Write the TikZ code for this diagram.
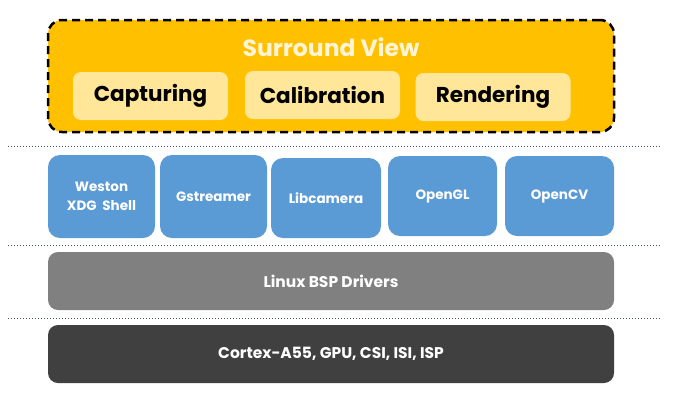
\documentclass[tikz,border=0pt]{standalone}
\usepackage{fontspec}
\setmainfont{Poppins}
\usepackage{tikz}

\definecolor{svyellow}{HTML}{FFC000}
\definecolor{svlight}{HTML}{FFE699}
\definecolor{svcream}{HTML}{FFF5D6}
\definecolor{svblue}{HTML}{5B9BD5}
\definecolor{svgrey}{HTML}{808080}
\definecolor{svdark}{HTML}{404040}
\definecolor{svline}{HTML}{44546A}

\begin{document}
\begin{tikzpicture}[x=1pt,y=-1pt,
  layer/.style={rounded corners=10pt,minimum width=566pt,minimum height=58pt,text=white,font=\bfseries\fontsize{15.5}{18}\selectfont},
  task/.style={fill=svlight,rounded corners=8pt,minimum width=155pt,minimum height=48pt,font=\bfseries\fontsize{21.5}{24}\selectfont},
  lib/.style={fill=svblue,rounded corners=12pt,minimum height=80pt,text=white,align=center,font=\bfseries\fontsize{13.5}{19}\selectfont},
  sep/.style={svline,line width=1pt,dotted}]
\useasboundingbox (0,0) rectangle (700,400);

\node[draw,line width=2.5pt,dash pattern=on 8pt off 5pt,fill=svyellow,rounded corners=14pt,minimum width=566pt,minimum height=112pt] (app) at (331,76) {};
\node[text=svcream,font=\bfseries\fontsize{23.5}{26}\selectfont] (title) at (331,47) {Surround View};
\node[task] (capture) at (150.5,96) {Capturing};
\node[task] (calib) at (322.5,95) {Calibration};
\node[task] (render) at (493,97) {Rendering};

\node[lib,minimum width=107pt,minimum height=83pt] (weston) at (101.5,196.5) {Weston\\XDG\ \ Shell};
\node[lib,minimum width=107pt,minimum height=83pt] (gst) at (213.5,196.5) {Gstreamer};
\node[lib,minimum width=110pt] (libcam) at (326,198) {Libcamera};
\node[lib,minimum width=109pt] (gl) at (442.5,196) {OpenGL};
\node[lib,minimum width=109pt] (cv) at (559.5,196) {OpenCV};

\node[layer,fill=svgrey] (bsp) at (331,281) {Linux BSP Drivers};
\node[layer,fill=svdark] (soc) at (331,354) {Cortex-A55, GPU, CSI, ISI, ISP};

\coordinate (s1a) at (8,146); \coordinate (s1b) at (660,146);
\coordinate (s2a) at (8,245); \coordinate (s2b) at (660,245);
\coordinate (s3a) at (8,318); \coordinate (s3b) at (660,318);
\draw[sep] (s1a) -- (s1b);
\draw[sep] (s2a) -- (s2b);
\draw[sep] (s3a) -- (s3b);

\end{tikzpicture}
\end{document}
